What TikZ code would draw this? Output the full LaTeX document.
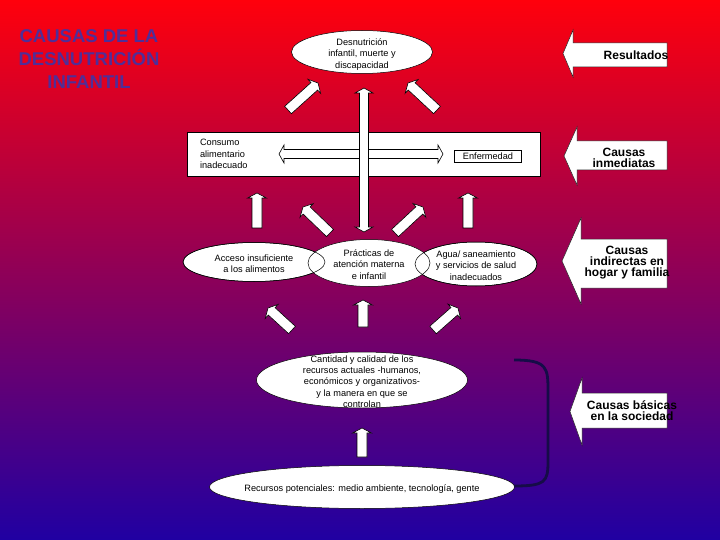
\documentclass[tikz,border=0pt]{standalone}
\usepackage{fontspec}
\setmainfont{Liberation Sans}
\usetikzlibrary{arrows.meta,positioning,calc,shapes.geometric}
\definecolor{TitleBlue}{RGB}{80,46,152}
\definecolor{BgTop}{RGB}{255,0,12}
\definecolor{BgMid}{RGB}{205,0,95}
\definecolor{BgBot}{RGB}{32,0,162}
\definecolor{Bracket}{RGB}{22,12,72}
\newcommand{\elt}[1]{\smash{\makebox[0pt]{\raisebox{-5pt}{\begin{tabular}{@{}c@{}}#1\end{tabular}}}}}
\newcommand{\sidearrow}[6]{\draw[sidearr] (667,#5) -- (#3,#5) -- (#3,#2-#4) -- (#1,#2) -- (#3,#2+#4) -- (#3,#6) -- (667,#6) -- cycle;}
% block arrow from #1 to #2 (named coordinates)
\newcommand{\blockarrow}[2]{%
  \coordinate (#1m) at ($(#2)!5pt!(#1)$);
  \draw[blk] ($(#1)!5pt!90:(#2)$) -- ($(#1m)!5pt!90:(#2)$) -- ($(#1m)!9.5pt!90:(#2)$) -- (#2)
    -- ($(#1m)!9.5pt!-90:(#2)$) -- ($(#1m)!5pt!-90:(#2)$) -- ($(#1)!5pt!-90:(#2)$) -- cycle;}
\newcommand{\dblarrow}[2]{%
  \coordinate (#1m) at ($(#1)!5pt!(#2)$); \coordinate (#2m) at ($(#2)!5pt!(#1)$);
  \draw[blk] (#1) -- ($(#1m)!9pt!90:(#2)$) -- ($(#1m)!4.5pt!90:(#2)$) -- ($(#2m)!4.5pt!-90:(#1)$)
    -- ($(#2m)!9pt!-90:(#1)$) -- (#2) -- ($(#2m)!9pt!90:(#1)$) -- ($(#2m)!4.5pt!90:(#1)$)
    -- ($(#1m)!4.5pt!-90:(#2)$) -- ($(#1m)!9pt!-90:(#2)$) -- cycle;}

\begin{document}
\begin{tikzpicture}[x=1pt,y=-1pt,font=\fontsize{9.2}{11.2}\selectfont,
  el/.style={ellipse,draw=black,fill=white,inner sep=0pt,line width=0.5pt},
  rbox/.style={draw=black,fill=white,line width=0.5pt},
  lbl/.style={font=\bfseries\fontsize{12}{11}\selectfont,align=center,inner sep=0pt},
  sidearr/.style={draw=black!85,fill=white,line width=0.5pt},
  blk/.style={draw=black,fill=white,line width=0.6pt,line join=miter}]

% ===== background =====
\useasboundingbox (0,0) rectangle (720,540);
\shade[top color=BgTop,middle color=BgMid,bottom color=BgBot] (0,0) rectangle (720,540);

% ===== title =====
\node[font=\bfseries\fontsize{18.5}{23}\selectfont,text=TitleBlue,align=center] (title) at (89,59)
  {CAUSAS DE LA\\DESNUTRICIÓN\\INFANTIL};

% ===== results and immediate causes =====
\node[el,minimum width=141pt,minimum height=43pt] (des) at (362,52)
  {\elt{Desnutrición\\infantil, muerte y\\discapacidad}};
\node[rbox,minimum width=353pt,minimum height=44pt,text width=327pt,inner xsep=13pt,align=left] (cons) at (363.5,154)
  {Consumo\\alimentario\\inadecuado};
\node[rbox,minimum width=67pt,minimum height=12pt,inner sep=0pt] (enf) at (488,156) {Enfermedad};

\coordinate (hl) at (279,154); \coordinate (hr) at (443,154);
\coordinate (vt) at (364,88);  \coordinate (vb) at (364,232);
\dblarrow{hl}{hr}
\dblarrow{vt}{vb}

% ===== block arrows =====
\foreach \n/\sx/\sy/\ex/\ey in {a1/288/110/318/83,a2/437/110/408/83,
    b1/257/228/257/193,b2/468/228/468/193,b3/330/233/303/207,b4/395/233/423/207,
    c1/292/330/268/308,c2/363/327/363/300,c3/433/330/458/308,d1/362/457/362/428}{
  \coordinate (\n s) at (\sx,\sy); \coordinate (\n e) at (\ex,\ey);
  \blockarrow{\n s}{\n e}}

% ===== underlying causes =====
\node[el,minimum width=142pt,minimum height=39pt] (acc) at (254,262)
  {\elt{Acceso insuficiente\\a los alimentos}};
\node[el,minimum width=122pt,minimum height=44pt] (agu) at (476,264)
  {\elt{Agua/ saneamiento\\y servicios de salud\\inadecuados}};
\node[el,minimum width=122pt,minimum height=47pt] (pra) at (369,263)
  {\elt{Prácticas de\\atención materna\\e infantil}};
\draw[line width=0.5pt] (acc) ellipse [x radius=71, y radius=19.5];
\draw[line width=0.5pt] (agu) ellipse [x radius=61, y radius=22];

% ===== basic causes =====
\node[el,minimum width=211pt,minimum height=56pt] (can) at (362,380)
  {\elt{Cantidad y calidad de los\\recursos actuales -humanos,\\económicos y organizativos-\\y la manera en que se\\controlan}};
\node[el,minimum width=305pt,minimum height=43pt] (rec) at (362,487)
  {\elt{Recursos potenciales: medio ambiente, tecnología, gente\hspace{28pt}}};
\draw[Bracket,line width=2.8pt] (514,360) .. controls (548,360) and (548,368) .. (548,392)
  -- (548,462) .. controls (548,482) and (545,486) .. (514,486);

% ===== side labels =====
\sidearrow{563}{53.5}{573}{23.5}{43}{67}
\sidearrow{564}{156}{577}{29}{141}{170}
\sidearrow{562}{261}{581}{43}{239}{288}
\sidearrow{570}{411.5}{582}{33.5}{393}{428}
\node[lbl] (res) at (636,55) {Resultados};
\node[lbl] (inm) at (624,158) {Causas\\inmediatas};
\node[lbl] (ind) at (627,263) {Causas\\indirectas en\\hogar y familia};
\node[lbl] (bas) at (632,411) {Causas básicas\\en la sociedad};
\end{tikzpicture}
\end{document}
